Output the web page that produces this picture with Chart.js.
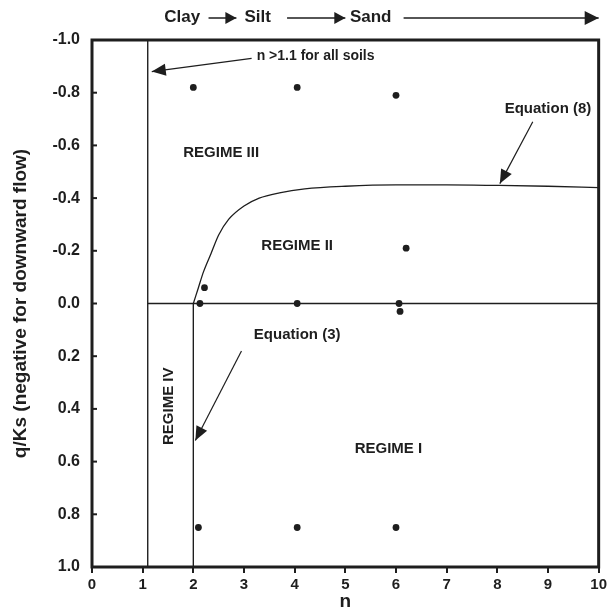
<!DOCTYPE html>
<html>
<head>
<meta charset="utf-8">
<script src="https://cdn.jsdelivr.net/npm/chart.js@4.4.1/dist/chart.umd.min.js"></script>
<style>
  html, body { margin: 0; padding: 0; background: #fff; }
  #wrap { width: 610px; height: 607px; position: relative; }
</style>
</head>
<body>
<div id="wrap"><canvas id="c"></canvas></div>
<script>
// Axis ticks
const nTicks = [0, 1, 2, 3, 4, 5, 6, 7, 8, 9, 10];
const qTicks = [-1.0, -0.8, -0.6, -0.4, -0.2, 0.0, 0.2, 0.4, 0.6, 0.8, 1.0];

// Soil cases (n, q/Ks)
const soilN = [2.0, 4.05, 6.0, 2.22, 2.13, 4.05, 6.2, 6.06, 6.08, 2.1, 4.05, 6.0];
const soilQ = [-0.82, -0.82, -0.79, -0.06, 0.0, 0.0, -0.21, 0.0, 0.03, 0.85, 0.85, 0.85];

// Equation (8): boundary between regime II and regime III
const eq8N = [2.0, 2.1, 2.2, 2.35, 2.5, 2.7, 3.0, 3.3, 3.7, 4.2, 5.0, 6.0, 7.0, 8.0, 9.0, 10.0];
const eq8Q = [0.0, -0.06, -0.12, -0.19, -0.26, -0.32, -0.37, -0.40, -0.42, -0.435, -0.445, -0.45, -0.45, -0.448, -0.445, -0.44];

// Regime boundaries
const nLimit = 1.1;   // n > 1.1 for all soils
const eq3N = 2.0;     // Equation (3)
const zeroQ = 0.0;    // no-flux line

const ink = '#1e1e1e';
const FONT = '"Liberation Sans", Arial, sans-serif';

const pts = (xs, ys) => xs.map((x, i) => ({ x, y: ys[i] }));

function arrowHead(ctx, x0, y0, x1, y1, len, half) {
  const a = Math.atan2(y1 - y0, x1 - x0);
  ctx.beginPath();
  ctx.moveTo(x1, y1);
  ctx.lineTo(x1 - len * Math.cos(a) + half * Math.sin(a), y1 - len * Math.sin(a) - half * Math.cos(a));
  ctx.lineTo(x1 - len * Math.cos(a) - half * Math.sin(a), y1 - len * Math.sin(a) + half * Math.cos(a));
  ctx.closePath();
  ctx.fill();
}
function arrow(ctx, x0, y0, x1, y1, len, half, lw) {
  ctx.lineWidth = lw;
  ctx.beginPath();
  ctx.moveTo(x0, y0);
  ctx.lineTo(x1, y1);
  ctx.stroke();
  arrowHead(ctx, x0, y0, x1, y1, len, half);
}

const decor = {
  id: 'decor',
  afterDatasetsDraw(chart) {
    const { ctx, chartArea: a, scales: { x, y } } = chart;
    const X = v => x.getPixelForValue(v);
    const Y = v => y.getPixelForValue(v);
    ctx.save();
    ctx.strokeStyle = ink;
    ctx.fillStyle = ink;

    // frame
    ctx.lineWidth = 3;
    ctx.strokeRect(a.left, a.top, a.right - a.left, a.bottom - a.top);

    // inward y ticks
    ctx.lineWidth = 2;
    qTicks.slice(1, -1).forEach(v => {
      ctx.beginPath();
      ctx.moveTo(a.left, Y(v));
      ctx.lineTo(a.left + 5, Y(v));
      ctx.stroke();
    });

    // texture labels across the top
    ctx.font = 'bold 17px ' + FONT;
    ctx.textBaseline = 'middle';
    ctx.textAlign = 'center';
    const ty = 17;
    ctx.fillText('Clay', X(1.78), ty);
    ctx.fillText('Silt', X(3.27), ty);
    ctx.fillText('Sand', X(5.5), ty);
    arrow(ctx, X(2.3), ty + 1, X(2.85), ty + 1, 11, 6, 1.5);
    arrow(ctx, X(3.85), ty + 1, X(5.0), ty + 1, 11, 6, 1.5);
    arrow(ctx, X(6.15), ty + 1, X(10.0), ty + 1, 14, 7, 1.5);

    // region annotations
    ctx.font = 'bold 15px ' + FONT;
    ctx.fillText('REGIME III', X(2.55), Y(-0.57));
    ctx.fillText('REGIME II', X(4.05), Y(-0.22));
    ctx.fillText('REGIME I', X(5.85), Y(0.55));
    ctx.fillText('Equation (8)', X(9.0), Y(-0.74));
    ctx.fillText('Equation (3)', X(4.05), Y(0.12));
    ctx.font = 'bold 14px ' + FONT;
    ctx.textAlign = 'left';
    ctx.fillText('n >1.1 for all soils', X(3.25), Y(-0.94));

    ctx.font = 'bold 15px ' + FONT;
    ctx.save();
    ctx.translate(X(1.52), Y(0.39));
    ctx.rotate(-Math.PI / 2);
    ctx.textAlign = 'center';
    ctx.fillText('REGIME IV', 0, 0);
    ctx.restore();

    // pointers
    arrow(ctx, X(3.15), Y(-0.93), X(1.18), Y(-0.88), 14, 6, 1.2);
    arrow(ctx, X(8.7), Y(-0.69), X(8.05), Y(-0.455), 14, 6, 1.2);
    arrow(ctx, X(2.95), Y(0.18), X(2.04), Y(0.52), 14, 6, 1.2);

    ctx.restore();
  }
};

const lineDs = (data, w) => ({
  type: 'line', data, showLine: true, borderColor: ink, borderWidth: w,
  pointRadius: 0, fill: false, tension: 0
});

new Chart(document.getElementById('c'), {
  type: 'scatter',
  data: {
    datasets: [
      lineDs([{ x: nLimit, y: -1 }, { x: nLimit, y: 1 }], 1.4),
      lineDs([{ x: eq3N, y: zeroQ }, { x: eq3N, y: 1 }], 1.4),
      lineDs([{ x: nLimit, y: zeroQ }, { x: 10, y: zeroQ }], 1.4),
      Object.assign(lineDs(pts(eq8N, eq8Q), 1.3), { cubicInterpolationMode: 'monotone' }),
      {
        type: 'scatter', data: pts(soilN, soilQ),
        pointRadius: 3.4, pointBackgroundColor: ink, pointBorderColor: ink, pointBorderWidth: 0
      }
    ]
  },
  options: {
    responsive: true,
    maintainAspectRatio: false,
    animation: false,
    layout: { padding: { left: 0, top: 40, right: 10, bottom: 0 } },
    plugins: { legend: { display: false }, tooltip: { enabled: false } },
    scales: {
      x: {
        type: 'linear', min: 0, max: 10,
        afterBuildTicks: s => { s.ticks = nTicks.map(v => ({ value: v })); },
        afterFit: s => { s.height = 40; },
        border: { display: false },
        grid: { drawOnChartArea: false, drawTicks: true, tickLength: 6, color: ink, lineWidth: 2 },
        ticks: { color: ink, padding: 3, font: { family: FONT, size: 15, weight: 'bold' }, maxRotation: 0 },
        title: { display: true, text: 'n', color: ink, padding: { top: 0, bottom: 0 },
          font: { family: FONT, size: 19, weight: 'bold', lineHeight: 0.6 } }
      },
      y: {
        type: 'linear', min: -1, max: 1, reverse: true,
        afterBuildTicks: s => { s.ticks = qTicks.map(v => ({ value: v })); },
        afterFit: s => { s.width = 92; },
        border: { display: false },
        grid: { display: false, drawTicks: false },
        ticks: { color: ink, padding: 12, font: { family: FONT, size: 16, weight: 'bold' },
          callback: v => Number(v).toFixed(1) },
        title: { display: true, text: 'q/Ks (negative for downward flow)', color: ink,
          padding: { top: 9, bottom: 0 }, font: { family: FONT, size: 19, weight: 'bold' } }
      }
    }
  },
  plugins: [decor]
});
</script>
</body>
</html>
